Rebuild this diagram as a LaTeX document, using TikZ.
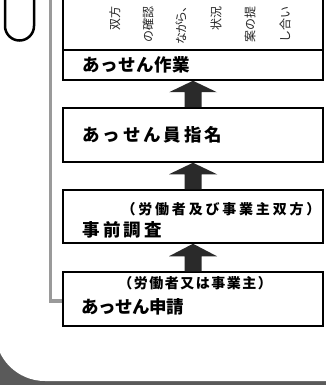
\documentclass[tikz,border=0pt]{standalone}
\usepackage{fontspec}
\newfontfamily\jp{Noto Sans CJK JP}
\usetikzlibrary{calc}
\definecolor{shadowgray}{HTML}{5A5A5A}
\definecolor{linegray}{HTML}{9A9A9A}
\definecolor{arrowdark}{HTML}{2A2A2A}
\newcommand\spc[2]{\def\mypitch{#1}\spcloop#2\relax}
\def\spcloop#1{\ifx\relax#1\else\makebox[\mypitch][c]{#1}\expandafter\spcloop\fi}
\tikzset{
  box/.style={draw=black, line width=1.5pt, fill=white, inner sep=0pt, minimum width=260pt},
  lbl/.style={inner sep=0pt, anchor=west, font=\jp\bfseries\fontsize{17.5}{17.5}\selectfont},
  sub/.style={inner sep=0pt, anchor=west, font=\jp\bfseries\fontsize{14}{14}\selectfont},
  coltext/.style={inner sep=0pt, anchor=west, rotate=90, text=black!85, font=\jp\fontsize{12}{12}\selectfont},
  arrowfill/.style={fill=arrowdark},
  grayline/.style={draw=linegray, line width=3.5pt},
}
\newcommand\blockarrow[2]{%
  \fill[arrowfill] ([xshift=-8.5pt]#1.north) -- ([xshift=-8.5pt,yshift=15pt]#1.north)
    -- ([xshift=-24pt,yshift=15pt]#1.north) -- (#2.south)
    -- ([xshift=24pt,yshift=15pt]#1.north) -- ([xshift=8.5pt,yshift=15pt]#1.north)
    -- ([xshift=8.5pt]#1.north) -- cycle;}
\begin{document}
\begin{tikzpicture}[x=1pt,y=-1pt]
\useasboundingbox (0,0) rectangle (326,385);
% background shadow
\fill[shadowgray] (-10,330) rectangle (340,395);
\fill[white, rounded corners=50pt] (-5,-100) rectangle (420,381);
% U shape top-left
\draw[line width=2.5pt] (5,-10) -- (5,26) arc (180:0:14.5) -- (34,-10);
% boxes
\node[box, minimum height=90pt] (b1) at (193,35) {};
\draw[line width=1.5pt] (b1.west |- 0,50) -- (b1.east |- 0,50);
\node[box, minimum height=54pt] (b2) at (193,135) {};
\node[box, minimum height=53pt] (b3) at (193,216.5) {};
\node[box, minimum height=54pt] (b4) at (193,299) {};
% gray connector
\coordinate (gtop) at (50.5,-10);
\draw[grayline] (gtop) |- ([yshift=-2pt]b4.west);
% arrows
\blockarrow{b2}{b1}
\blockarrow{b3}{b2}
\blockarrow{b4}{b3}
% labels
\node[lbl] (t1) at (81.5,65) {\spc{18.1pt}{あっせん作業}};
\node[lbl] (t2) at (81,135) {\spc{20.3pt}{あっせん員指名}};
\node[sub] (s3) at (120,209) {\spc{16.8pt}{（労働者及び事業主双方）}};
\node[lbl] (t3) at (81,230) {\spc{20.5pt}{事前調査}};
\node[sub] (s4) at (117.5,283) {\spc{15.5pt}{（労働者又は事業主）}};
\node[lbl] (t4) at (82,307) {\spc{17pt}{あっせん申請}};
% column texts (rotated)
\node[coltext] (c1) at (114.7,31) {\spc{12pt}{双方}};
\node[coltext] (c2) at (148,43) {\spc{12pt}{の確認}};
\node[coltext] (c3) at (181,44) {\spc{10.6pt}{ながら、}};
\node[coltext] (c4) at (216,31) {\spc{12pt}{状況}};
\node[coltext] (c5) at (250,43) {\spc{12pt}{案の提}};
\node[coltext] (c6) at (285,43) {\spc{12pt}{し合い}};
\end{tikzpicture}
\end{document}
